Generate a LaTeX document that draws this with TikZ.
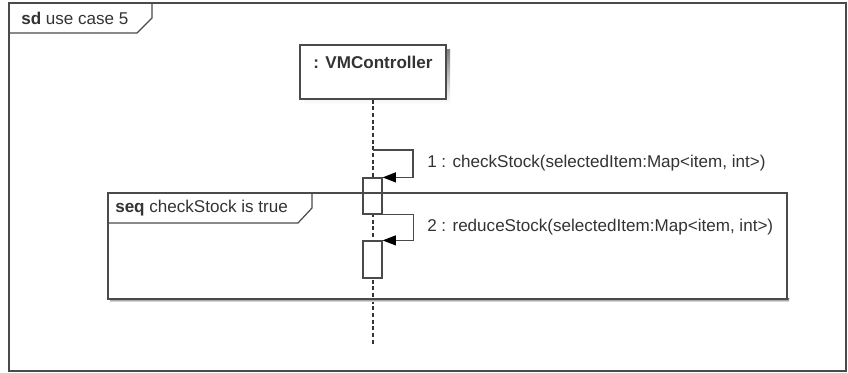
\documentclass[tikz,border=0pt]{standalone}
\usepackage{fontspec}
\setmainfont{Liberation Sans}
\usetikzlibrary{arrows.meta}
\definecolor{ink}{HTML}{4A4A4A}
\definecolor{txt}{HTML}{333333}
\definecolor{shade}{HTML}{E2E2E2}
\begin{document}
\begin{tikzpicture}[x=0.75pt,y=-0.75pt,
  line/.style={draw=ink,line width=0.9pt},
  lbl/.style={text=txt,font=\fontsize{12.8}{15}\selectfont,inner sep=0pt,anchor=west},
  headbox/.style={line,fill=white,minimum width=109.5pt,minimum height=40.5pt,inner sep=0pt},
  actbox/.style={line,fill=white,minimum width=14.25pt,inner sep=0pt},
  lifeline/.style={draw=black!80,line width=0.9pt,dash pattern=on 3pt off 2pt},
  msg/.style={line,-{Triangle[length=10pt,width=7.5pt,color=black,fill=black]}}
]
\useasboundingbox (0,0) rectangle (848,373);

% outer sd frame
\draw[line] (9,3) rectangle (846,371);
\draw[line] (9,33) -- (137,33) -- (152,18) -- (152,3);
\node[lbl] (sdtitle) at (21,18) {\textbf{sd} use case 5};

% lifeline head with its shadow
\fill[shade] (304,50) rectangle (450,104);
\node[headbox] (vm) at (373,72) {};
\node[lbl,anchor=center,font=\fontsize{12.8}{15}\selectfont\bfseries] (vmname) at (373,62) {: VMController};

% lifeline
\coordinate (lifeend) at (373,345);
\draw[lifeline] (vm.south) -- (lifeend);

% activations
\node[actbox,minimum height=27pt] (act1) at (372.5,196) {};
\node[actbox,minimum height=27.75pt] (act2) at (372.5,259.5) {};

% combined fragment "seq"
\fill[shade] (110,299) rectangle (789,302);
\draw[line] (108,193) rectangle (787,299);
\draw[line] (108,223) -- (298,223) -- (312,208) -- (312,193);
\node[lbl] (seqtitle) at (115,208) {\textbf{seq} checkStock is true};

% self messages
\coordinate (m1start) at (373,150);
\draw[msg] (m1start) -- ++(40,0) |- (act1.north east);
\node[lbl] (m1lbl) at (427,163) {1 : checkStock(selectedItem:Map<item, int>)};

\draw[msg] (act1.south east) -- ++(31,0) |- (act2.north east);
\node[lbl] (m2lbl) at (427,227) {2 : reduceStock(selectedItem:Map<item, int>)};
\end{tikzpicture}
\end{document}
